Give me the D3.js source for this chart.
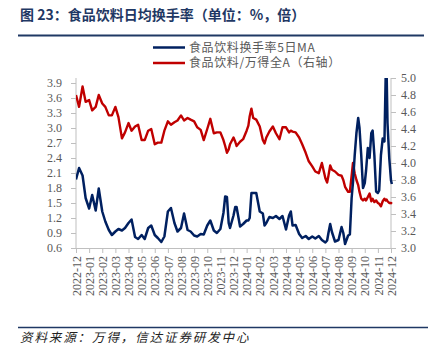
<!DOCTYPE html>
<html><head><meta charset="utf-8">
<script src="https://cdn.jsdelivr.net/npm/d3@7"></script>
<style>
body{margin:0;background:#fff;}
svg{display:block;}
</style></head>
<body><svg id="c" width="435" height="358"></svg>
<script>
const monthLabels = ["2022-12","2023-01","2023-02","2023-03","2023-04","2023-05","2023-06","2023-07","2023-08","2023-09","2023-10","2023-11","2023-12","2024-01","2024-02","2024-03","2024-04","2024-05","2024-06","2024-07","2024-08","2024-09","2024-10","2024-11","2024-12"];
const leftTicks = [0.6,0.9,1.2,1.5,1.8,2.1,2.4,2.7,3.0,3.3,3.6,3.9];
const rightTicks = [3.0,3.2,3.4,3.6,3.8,4.0,4.2,4.4,4.6,4.8,5.0];
const seriesNames = ["食品饮料换手率5日MA","食品饮料/万得全A（右轴）"];
const dates = ["2022-12-01","2022-12-08","2022-12-16","2022-12-23","2023-01-01","2023-01-08","2023-01-16","2023-01-23","2023-02-01","2023-02-08","2023-02-16","2023-02-23","2023-03-01","2023-03-08","2023-03-16","2023-03-23","2023-04-01","2023-04-08","2023-04-16","2023-04-23","2023-05-01","2023-05-08","2023-05-16","2023-05-23","2023-06-01","2023-06-08","2023-06-16","2023-06-23","2023-07-01","2023-07-08","2023-07-16","2023-07-23","2023-08-01","2023-08-08","2023-08-16","2023-08-23","2023-09-01","2023-09-08","2023-09-16","2023-09-23","2023-10-01","2023-10-08","2023-10-16","2023-10-23","2023-11-01","2023-11-08","2023-11-12","2023-11-16","2023-11-20","2023-11-23","2023-12-01","2023-12-05","2023-12-08","2023-12-16","2023-12-23","2024-01-01","2024-01-05","2024-01-08","2024-01-12","2024-01-16","2024-01-23","2024-02-01","2024-02-08","2024-02-12","2024-02-16","2024-02-23","2024-03-01","2024-03-08","2024-03-16","2024-03-23","2024-04-01","2024-04-08","2024-04-12","2024-04-16","2024-04-23","2024-05-01","2024-05-08","2024-05-16","2024-05-23","2024-06-01","2024-06-08","2024-06-16","2024-06-23","2024-07-01","2024-07-05","2024-07-08","2024-07-12","2024-07-16","2024-07-23","2024-08-01","2024-08-08","2024-08-12","2024-08-16","2024-08-23","2024-08-27","2024-09-01","2024-09-04","2024-09-08","2024-09-12","2024-09-16","2024-09-19","2024-09-23","2024-09-27","2024-10-01","2024-10-04","2024-10-08","2024-10-12","2024-10-16","2024-10-19","2024-10-23","2024-10-27","2024-11-01","2024-11-04","2024-11-08","2024-11-12","2024-11-16","2024-11-19","2024-11-21","2024-11-23","2024-11-27","2024-12-01","2024-12-03"];
const turnover = [1.97,2.20,2.05,1.60,1.39,1.66,1.35,1.79,1.33,1.13,0.96,0.86,0.93,0.98,0.95,1.00,1.10,1.17,0.82,0.78,0.86,0.78,1.00,1.05,0.86,0.80,0.72,0.83,1.33,1.40,1.10,0.93,1.00,1.29,0.96,0.93,0.85,0.83,0.88,0.87,1.05,1.15,0.95,0.90,0.98,1.30,1.63,1.62,1.10,1.00,1.25,1.42,1.42,1.03,1.08,1.15,1.15,1.20,1.70,1.70,1.70,1.33,1.29,1.05,1.10,1.22,1.20,1.24,1.18,1.24,0.97,1.25,1.33,1.05,1.06,0.88,0.80,0.84,0.78,0.83,0.79,0.84,0.76,0.71,0.75,0.90,1.08,0.92,0.73,0.76,1.02,0.90,0.68,0.85,0.87,1.60,1.90,2.45,2.90,3.20,3.00,2.45,1.80,1.90,2.15,2.60,2.40,2.90,2.95,2.45,1.73,1.70,1.75,2.46,2.79,2.73,4.10,4.10,3.10,2.40,1.95,1.88];
const relative = [4.80,4.66,4.90,4.72,4.74,4.62,4.66,4.80,4.70,4.66,4.56,4.56,4.66,4.54,4.29,4.36,4.47,4.38,4.43,4.45,4.27,4.27,4.38,4.40,4.22,4.24,4.24,4.38,4.49,4.45,4.48,4.50,4.56,4.50,4.53,4.51,4.49,4.42,4.39,4.27,4.40,4.52,4.35,4.36,4.36,4.27,4.20,4.12,4.16,4.22,4.30,4.25,4.20,4.25,4.28,4.38,4.44,4.55,4.64,4.53,4.51,4.43,4.27,4.23,4.30,4.37,4.43,4.35,4.28,4.42,4.42,4.36,4.38,4.37,4.36,4.30,4.22,4.12,4.02,3.96,3.90,3.88,4.00,3.82,3.77,3.85,3.97,3.92,3.90,3.86,3.85,3.80,3.72,3.66,3.66,3.85,4.00,3.88,3.80,3.74,3.66,3.58,3.56,3.58,3.56,3.60,3.64,3.55,3.58,3.54,3.56,3.53,3.52,3.49,3.55,3.58,3.56,3.57,3.55,3.53,3.53,3.52];

const svg = d3.select("#c");
const L = 76, R = 391, T = 78, B = 248;
const navy = "#1f3864", grey = "#595959", axisC = "#bfbfbf";
const serif = "'Liberation Serif','Times New Roman',serif";
const cjk = "'Noto Sans CJK SC',sans-serif";

function monthPos(s){
  const [y,m,d] = s.split("-").map(Number);
  return (y-2022)*12 + (m-12) + (d-1)/30;
}
const x = d3.scaleLinear().domain([0,24]).range([L,R]);
const yL = d3.scaleLinear().domain([0.6,4.0]).range([B,T]);
const yR = d3.scaleLinear().domain([3.0,5.0]).range([B,T]);

svg.append("text").attr("x",20).attr("y",20).attr("font-family",cjk).attr("font-size",14)
  .attr("font-weight","bold").attr("fill",navy).text("图 23：食品饮料日均换手率（单位：%，倍）");
svg.append("line").attr("x1",18).attr("x2",424).attr("y1",35.5).attr("y2",35.5).attr("stroke",navy).attr("stroke-width",2);

const gL = svg.append("g").attr("transform",`translate(${L},0)`)
  .call(d3.axisLeft(yL).tickValues(leftTicks).tickFormat(d3.format(".1f")).tickSize(5).tickPadding(9));
const gR = svg.append("g").attr("transform",`translate(${R},0)`)
  .call(d3.axisRight(yR).tickValues(rightTicks).tickFormat(d3.format(".1f")).tickSize(5).tickPadding(5));
const gB = svg.append("g").attr("transform",`translate(0,${B})`)
  .call(d3.axisBottom(x).tickValues(d3.range(monthLabels.length)).tickFormat(i=>monthLabels[i]).tickSize(5).tickSizeOuter(0));
[gL,gR,gB].forEach(g=>{
  g.select(".domain").attr("stroke",axisC);
  g.selectAll(".tick line").attr("stroke",axisC);
  g.selectAll(".tick text").attr("fill",grey).attr("font-family",serif).attr("font-size",12);
});
gL.select(".domain").attr("d",`M0,${T}V${B}`);
gR.select(".domain").attr("d",`M0,${T}V${B}`);
gB.selectAll(".tick text").attr("transform","rotate(-90)").attr("text-anchor","end")
  .attr("x",-8).attr("y",0).attr("dy","0.35em");

svg.append("clipPath").attr("id","pc").append("rect").attr("x",L).attr("y",T).attr("width",R-L+3).attr("height",B-T);

const ptsB = dates.map((d,i)=>[monthPos(d),turnover[i]]);
const ptsR = dates.map((d,i)=>[monthPos(d),relative[i]]);
svg.append("path").datum(ptsR).attr("clip-path","url(#pc)")
  .attr("d",d3.line().x(d=>x(d[0])).y(d=>yR(d[1])))
  .attr("fill","none").attr("stroke","#c00000").attr("stroke-width",2.4).attr("stroke-linejoin","round");
svg.append("path").datum(ptsB).attr("clip-path","url(#pc)")
  .attr("d",d3.line().x(d=>x(d[0])).y(d=>yL(d[1])))
  .attr("fill","none").attr("stroke","#002060").attr("stroke-width",2.5).attr("stroke-linejoin","round");

const legColors = ["#002060","#c00000"];
seriesNames.forEach((n,i)=>{
  const ly = 47.5 + i*15.5;
  svg.append("line").attr("x1",153).attr("x2",185).attr("y1",ly).attr("y2",ly).attr("stroke",legColors[i]).attr("stroke-width",2.5);
  svg.append("text").attr("x",189).attr("y",ly).attr("dy","0.35em").attr("font-family",cjk).attr("font-size",12)
    .attr("letter-spacing","0.6px").attr("fill",grey).text(n);
});

svg.append("line").attr("x1",18).attr("x2",428).attr("y1",327.5).attr("y2",327.5).attr("stroke",navy).attr("stroke-width",1.5);
svg.append("text").attr("x",20).attr("y",342).attr("font-family",cjk).attr("font-size",12.5)
  .attr("font-style","italic").attr("letter-spacing","1.9px").attr("fill","#222").text("资料来源：万得，信达证券研发中心");
</script></body></html>
